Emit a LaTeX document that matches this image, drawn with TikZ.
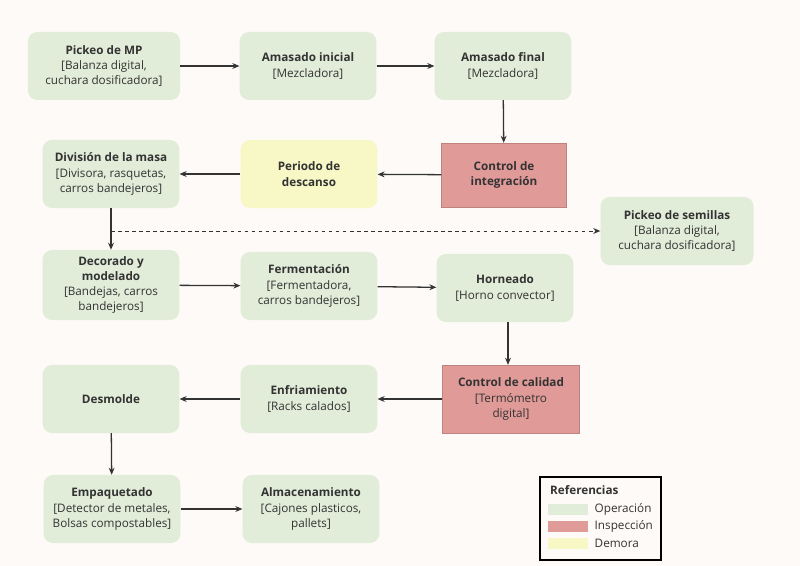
\documentclass[tikz,border=0pt]{standalone}
\usepackage{fontspec}
\setmainfont{Open Sans}
\usetikzlibrary{arrows.meta,positioning}
\definecolor{bgcol}{HTML}{FDFAF7}
\definecolor{opcol}{HTML}{E1ECD9}
\definecolor{inspcol}{HTML}{E09A98}
\definecolor{demcol}{HTML}{F8F7C6}
\definecolor{linecol}{HTML}{333333}
\tikzset{
    box/.style={rectangle, rounded corners=8pt, minimum width=4.1cm, minimum height=2.04cm, align=center, text=linecol, font=\fontsize{10}{13}\selectfont, inner sep=2pt},
    oper/.style={box, fill=opcol},
    insp/.style={box, fill=inspcol, rounded corners=0pt, draw=inspcol!85!black, line width=0.3pt},
    dem/.style={box, fill=demcol},
    flow/.style={-{Stealth[length=6pt,width=5pt]}, line width=1.1pt, draw=linecol},
}
\newcommand{\tit}[1]{\textbf{#1}}
\begin{document}
\begin{tikzpicture}[x=0.03cm, y=-0.03cm]
    \fill[bgcol] (0,0) rectangle (800,566);
    \useasboundingbox (0,0) rectangle (800,566);

    % first row
    \node[oper, minimum width=4.56cm] (mp) at (104,66) {\tit{Pickeo de MP}\\ {[}Balanza digital,\\ cuchara dosificadora{]}};
    \node[oper] (amin) at (308,66) {\tit{Amasado inicial}\\ {[}Mezcladora{]}};
    \node[oper] (amfi) at (503,66) {\tit{Amasado final}\\ {[}Mezcladora{]}};

    % second row
    \node[insp, minimum width=3.75cm, minimum height=1.92cm] (cint) at (504,175) {\tit{Control de}\\ \tit{integración}};
    \node[dem] (desc) at (309,174) {\tit{Periodo de}\\ \tit{descanso}};
    \node[oper] (divi) at (111,174) {\tit{División de la masa}\\ {[}Divisora, rasquetas,\\ carros bandejeros{]}};
    \node[oper, minimum width=4.59cm] (semi) at (677,231) {\tit{Pickeo de semillas}\\ {[}Balanza digital,\\ cuchara dosificadora{]}};

    % third row
    \node[oper, minimum height=2.1cm] (deco) at (111,285) {\tit{Decorado y}\\ \tit{modelado}\\ {[}Bandejas, carros\\ bandejeros{]}};
    \node[oper] (ferm) at (309,286) {\tit{Fermentación}\\ {[}Fermentadora,\\ carros bandejeros{]}};
    \node[oper] (horn) at (505,288) {\tit{Horneado}\\ {[}Horno convector{]}};

    % fourth row
    \node[insp] (ccal) at (511,399) {\tit{Control de calidad}\\ {[}Termómetro\\ digital{]}};
    \node[oper] (enfr) at (309,399) {\tit{Enfriamiento}\\ {[}Racks calados{]}};
    \node[oper] (desm) at (111,399) {\tit{Desmolde}};

    % fifth row
    \node[oper] (empa) at (112,509) {\tit{Empaquetado}\\ {[}Detector de metales,\\ Bolsas compostables{]}};
    \node[oper] (alma) at (311,509) {\tit{Almacenamiento}\\ {[}Cajones plasticos,\\ pallets{]}};

    \foreach \a/\b in {mp/amin, amin/amfi, amfi/cint, cint/desc, desc/divi, divi/deco, deco/ferm, ferm/horn, ccal/enfr, enfr/desm, desm/empa, empa/alma}
        \draw[flow] (\a) -- (\b);
    \draw[flow] (horn.south -| ccal.north) ++(-3,0) coordinate (hs) -- (hs |- ccal.north);

    \coordinate (split) at (divi.south |- semi);
    \draw[flow, dashed, line width=0.8pt] (split) -- (semi);

    % legend
    \node[draw=black, line width=1pt, fill=bgcol, minimum width=3.63cm, minimum height=2.49cm] (leg) at (600.5,518.5) {};
    \node[anchor=west, font=\fontsize{10}{12}\selectfont\bfseries, text=linecol] (legt) at (546,490) {Referencias};
    \foreach \c/\t/\y [count=\i] in {opcol/Operación/509, inspcol/Inspección/526, demcol/Demora/543} {
        \node[fill=\c, minimum width=1.2cm, minimum height=0.33cm, inner sep=0pt] (sw\i) at (568,\y) {};
        \node[font=\fontsize{10}{12}\selectfont, text=linecol, right=2pt of sw\i] (lab\i) {\t};
    }
\end{tikzpicture}
\end{document}
